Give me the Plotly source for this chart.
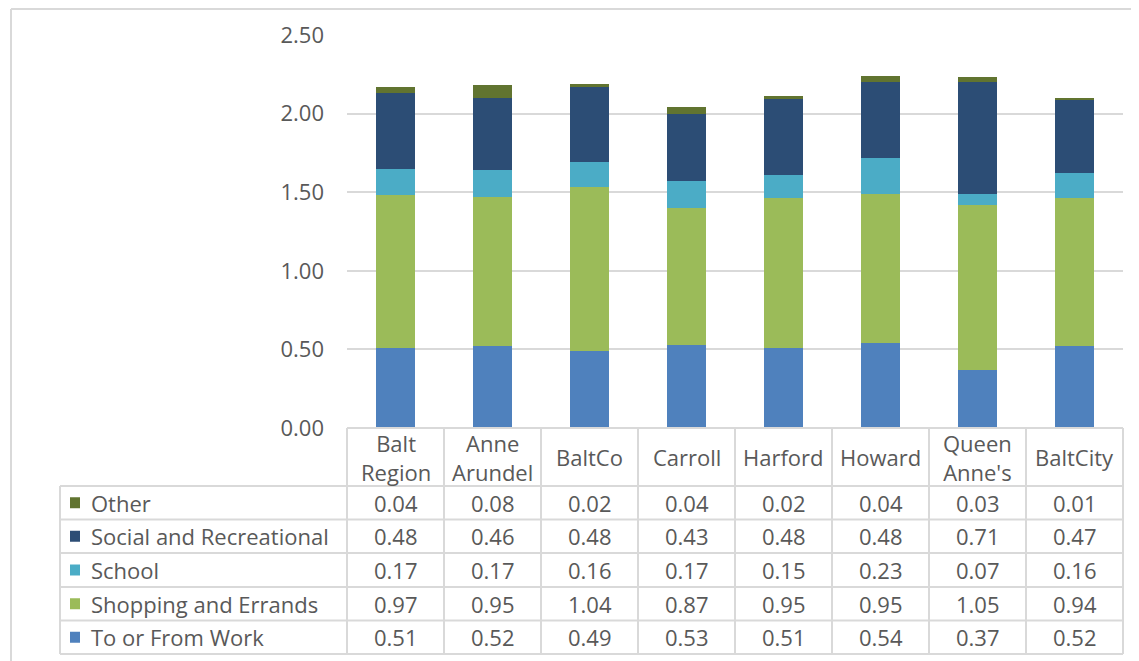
import plotly.graph_objects as go

# ---- data ----
categories = ["Balt<br>Region", "Anne<br>Arundel", "BaltCo", "Carroll", "Harford",
              "Howard", "Queen<br>Anne's", "BaltCity"]
series_names = ["To or From Work", "Shopping and Errands", "School",
                "Social and Recreational", "Other"]
work = [0.51, 0.52, 0.49, 0.53, 0.51, 0.54, 0.37, 0.52]
shopping = [0.97, 0.95, 1.04, 0.87, 0.95, 0.95, 1.05, 0.94]
school = [0.17, 0.17, 0.16, 0.17, 0.15, 0.23, 0.07, 0.16]
social = [0.48, 0.46, 0.48, 0.43, 0.48, 0.48, 0.71, 0.47]
other = [0.04, 0.08, 0.02, 0.04, 0.02, 0.04, 0.03, 0.01]
y_ticks = [0, 0.5, 1.0, 1.5, 2.0, 2.5]

series_values = [work, shopping, school, social, other]
colors = ["#4F81BD", "#9BBB59", "#4BACC6", "#2C4D75", "#617430"]

OFF = 8  # page body margin
W, H = 1139 - OFF, 661 - OFF
L, R, T, B = 347 - OFF, 1123 - OFF, 35 - OFF, 428 - OFF   # plot area in figure pixels
FONT = "Open Sans"
FS = 22
TXT = "#595959"
LINE = "#D9D9D9"

def X(px):
    return (px - OFF - L) / (R - L)

def Y(py):
    return (B - (py - OFF)) / (B - T)

xs = list(range(len(categories)))

fig = go.Figure()
for name, vals, col in zip(series_names, series_values, colors):
    fig.add_trace(go.Bar(x=xs, y=vals, name=name, marker=dict(color=col, line=dict(width=0)),
                         showlegend=False))

shapes = []
annotations = []

# column geometry (screen pixels)
ncol = len(categories)
sL, sR, sB = 347, 1123, 428
colw = (sR - sL) / ncol
row_lines = [486, 519.5, 553, 587, 620.5, 654]
leg_left = 60

# vertical column lines
for k in range(ncol + 1):
    px = sL + k * colw
    shapes.append(dict(type="line", xref="paper", yref="paper", x0=X(px), x1=X(px),
                       y0=Y(sB), y1=Y(row_lines[-1]), line=dict(color=LINE, width=2)))
# header top line
shapes.append(dict(type="line", xref="paper", yref="paper", x0=X(sL), x1=X(sR),
                   y0=Y(sB), y1=Y(sB), line=dict(color=LINE, width=2)))
# row lines
for py in row_lines:
    shapes.append(dict(type="line", xref="paper", yref="paper", x0=X(leg_left), x1=X(sR),
                       y0=Y(py), y1=Y(py), line=dict(color=LINE, width=2)))
# legend column left line
shapes.append(dict(type="line", xref="paper", yref="paper", x0=X(leg_left), x1=X(leg_left),
                   y0=Y(row_lines[0]), y1=Y(row_lines[-1]), line=dict(color=LINE, width=2)))
# outer chart border (left and top)
shapes.append(dict(type="line", xref="paper", yref="paper", x0=X(11), x1=X(11),
                   y0=Y(9), y1=Y(700), line=dict(color=LINE, width=2)))
shapes.append(dict(type="line", xref="paper", yref="paper", x0=X(11), x1=X(1200),
                   y0=Y(9), y1=Y(9), line=dict(color=LINE, width=2)))

# header labels
for i, c in enumerate(categories):
    annotations.append(dict(x=i, y=Y((sB + row_lines[0]) / 2), xref="x", yref="paper",
                            text=c, showarrow=False, xanchor="center", yanchor="middle",
                            font=dict(family=FONT, size=FS, color=TXT)))

# table rows (top row = last series)
for r, idx in enumerate(reversed(range(len(series_names)))):
    cy = (row_lines[r] + row_lines[r + 1]) / 2
    shapes.append(dict(type="rect", xref="paper", yref="paper", x0=X(70), x1=X(80),
                       y0=Y(cy - 5.5), y1=Y(cy + 5.5), fillcolor=colors[idx],
                       line=dict(width=0)))
    annotations.append(dict(x=X(89), y=Y(cy), xref="paper", yref="paper",
                            text=series_names[idx], showarrow=False, xanchor="left",
                            yanchor="middle", font=dict(family=FONT, size=FS, color=TXT)))
    for i, v in enumerate(series_values[idx]):
        annotations.append(dict(x=i, y=Y(cy), xref="x", yref="paper",
                                text=f"{v:.2f}", showarrow=False, xanchor="center",
                                yanchor="middle", font=dict(family=FONT, size=FS, color=TXT)))

fig.update_layout(
    width=W, height=H,
    margin=dict(l=L, r=W - R, t=T, b=H - B, pad=0),
    barmode="stack", bargap=0.59,
    plot_bgcolor="white", paper_bgcolor="white",
    shapes=shapes, annotations=annotations,
    xaxis=dict(range=[-0.5, ncol - 0.5], showticklabels=False, showgrid=False,
               zeroline=False, showline=False, ticks=""),
    yaxis=dict(range=[0, 2.5], tickvals=y_ticks, tickformat=".2f",
               showgrid=True, gridcolor=LINE, gridwidth=2, zeroline=False,
               showline=False, ticks="", ticklabelstandoff=22,
               tickfont=dict(family=FONT, size=FS, color=TXT)),
)

fig.write_html("out.html")
